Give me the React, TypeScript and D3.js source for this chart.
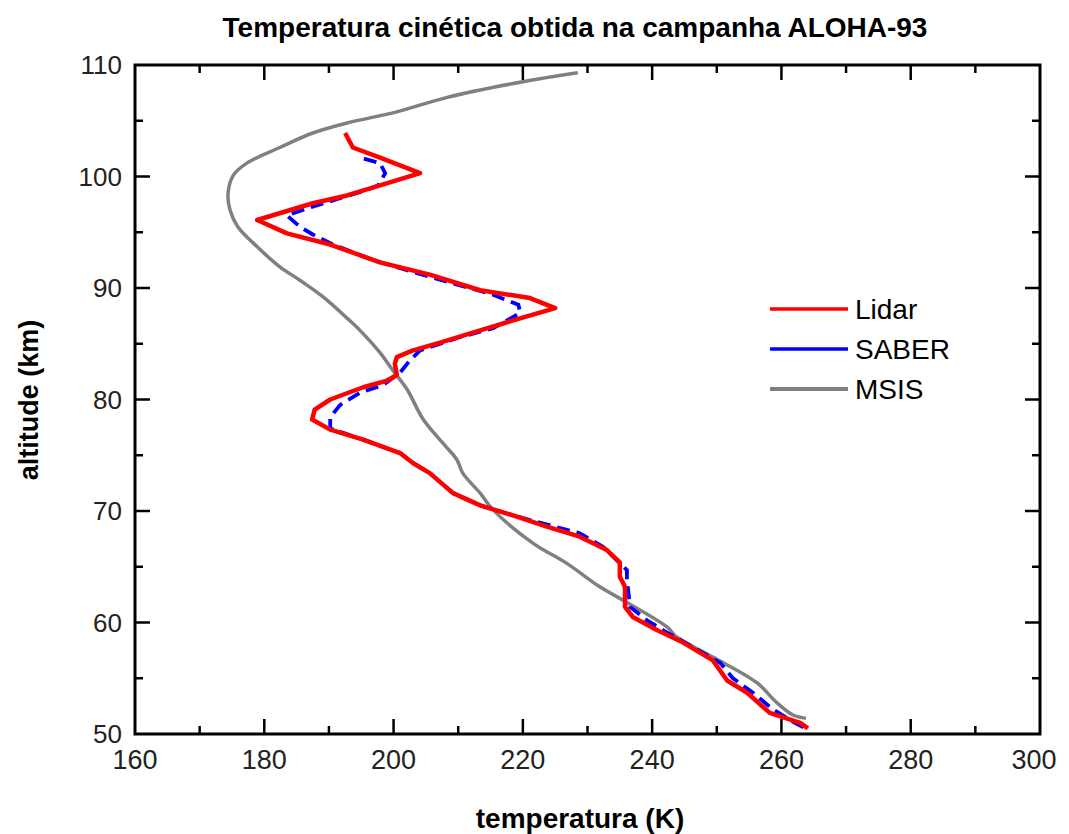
import { useEffect, useRef } from 'react'
import * as d3 from 'd3'

// Lidar profile (K vs km)
const lidarAlt = [103.9, 102.6, 101.7, 100.3, 99.2, 98.3, 97.6, 96.1, 94.9, 93.9, 92.3, 91.2, 89.8, 89.1, 88.2, 87.1, 86.2, 85.1, 84.4, 83.8, 83.2, 82.2, 81.7, 81.1, 80.0, 79.1, 78.2, 77.3, 76.4, 75.2, 74.3, 73.4, 71.6, 70.5, 69.6, 68.6, 67.7, 66.5, 65.4, 64.1, 63.2, 61.4, 60.5, 59.3, 58.2, 56.6, 54.8, 53.7, 51.9, 51.0, 50.5]
const lidarTemp = [192.5, 193.7, 197.9, 204.1, 197.9, 192.8, 187.5, 178.9, 183.5, 190.2, 197.9, 205.6, 213.4, 221.1, 225.0, 218.5, 213.4, 207.2, 203.0, 200.5, 200.2, 200.5, 199.0, 195.3, 190.2, 187.8, 187.4, 190.2, 195.3, 201.0, 203.0, 205.6, 209.2, 213.4, 218.5, 223.7, 228.8, 233.0, 235.0, 235.0, 235.8, 235.8, 237.0, 240.8, 244.8, 249.4, 251.6, 254.7, 258.2, 262.9, 264.1]

// SABER profile
const saberAlt = [101.6, 101.2, 100.3, 99.2, 98.8, 97.3, 96.5, 95.5, 94.8, 93.9, 92.5, 91.0, 89.4, 88.5, 87.8, 87.4, 86.4, 85.6, 84.4, 83.5, 82.4, 81.3, 80.6, 79.5, 78.4, 77.4, 76.4, 75.2, 74.3, 73.4, 71.6, 70.5, 69.6, 68.0, 66.8, 64.7, 63.8, 61.4, 60.2, 59.1, 57.8, 56.4, 55.0, 53.7, 52.2, 51.1, 50.4]
const saberTemp = [195.4, 197.9, 198.7, 197.6, 195.9, 187.5, 183.5, 185.5, 187.5, 190.6, 196.8, 205.6, 215.4, 219.3, 219.6, 218.5, 215.4, 210.3, 204.1, 202.5, 201.0, 198.4, 194.8, 191.7, 190.2, 190.2, 195.3, 201.0, 203.0, 205.6, 209.2, 213.4, 218.5, 228.8, 232.4, 236.1, 236.1, 236.6, 239.2, 242.3, 246.3, 250.5, 252.5, 255.6, 258.7, 261.8, 264.1]

// MSIS model profile
const msisAlt = [109.3, 108.5, 107.1, 105.8, 104.8, 103.9, 102.6, 101.2, 100.1, 98.5, 97.0, 95.5, 93.7, 91.9, 90.7, 89.2, 87.3, 86.2, 84.2, 82.6, 80.9, 78.2, 76.1, 74.6, 73.4, 71.6, 70.1, 67.1, 65.3, 63.2, 61.8, 59.6, 58.7, 56.9, 54.6, 52.8, 51.7, 51.4]
const msisTemp = [228.5, 220.0, 208.3, 200.5, 192.8, 187.5, 182.4, 177.3, 175.2, 174.4, 174.7, 175.9, 178.9, 182.4, 185.5, 189.1, 192.8, 194.8, 197.9, 199.9, 202.1, 204.6, 207.6, 209.8, 210.7, 213.4, 215.4, 221.6, 226.8, 231.9, 236.1, 242.3, 243.8, 249.4, 256.2, 259.3, 261.8, 263.8]

const xTicks = [160, 180, 200, 220, 240, 260, 280, 300]
const yTicks = [50, 60, 70, 80, 90, 100, 110]

const seriesNames = ['Lidar', 'SABER', 'MSIS']
const seriesColors = ['#ff0000', '#0000ff', '#808080']

const App = () => {
  const svgRef = useRef(null)

  useEffect(() => {
    const width = 1069
    const height = 834
    const left = 135
    const right = 1040
    const top = 65
    const bottom = 734

    const svg = d3.select(svgRef.current)
    svg.selectAll('*').remove()
    svg.attr('width', width).attr('height', height)

    const x = d3.scaleLinear().domain([160, 300]).range([left, right])
    const y = d3.scaleLinear().domain([50, 110]).range([bottom, top])

    const font = 'Liberation Sans, Arial, sans-serif'

    const mk = (t: number[], a: number[]) => t.map((v, i) => [v, a[i]] as [number, number])
    const path = d3.line<[number, number]>().x((d) => x(d[0])).y((d) => y(d[1]))
    const smooth = d3
      .line<[number, number]>()
      .x((d) => x(d[0]))
      .y((d) => y(d[1]))
      .curve(d3.curveCatmullRom.alpha(0.5))

    // MSIS below, then SABER, Lidar on top
    svg
      .append('path')
      .attr('d', smooth(mk(msisTemp, msisAlt)))
      .attr('fill', 'none')
      .attr('stroke', seriesColors[2])
      .attr('stroke-width', 3.5)
      .attr('stroke-linejoin', 'round')

    svg
      .append('path')
      .attr('d', path(mk(saberTemp, saberAlt)))
      .attr('fill', 'none')
      .attr('stroke', seriesColors[1])
      .attr('stroke-width', 3.8)
      .attr('stroke-dasharray', '13,7')

    svg
      .append('path')
      .attr('d', path(mk(lidarTemp, lidarAlt)))
      .attr('fill', 'none')
      .attr('stroke', seriesColors[0])
      .attr('stroke-width', 4.5)
      .attr('stroke-linejoin', 'round')

    // frame
    svg
      .append('rect')
      .attr('x', left)
      .attr('y', top)
      .attr('width', right - left)
      .attr('height', bottom - top)
      .attr('fill', 'none')
      .attr('stroke', '#000')
      .attr('stroke-width', 3)

    // ticks on all four sides
    const xMinor = d3.range(170, 300, 20)
    const yMinor = d3.range(55, 110, 10)
    const ticks = svg.append('g').attr('stroke', '#000').attr('stroke-width', 2.5)
    xTicks.slice(1, -1).forEach((v) => {
      ticks.append('line').attr('x1', x(v)).attr('x2', x(v)).attr('y1', bottom).attr('y2', bottom - 15)
      ticks.append('line').attr('x1', x(v)).attr('x2', x(v)).attr('y1', top).attr('y2', top + 15)
    })
    xMinor.forEach((v) => {
      ticks.append('line').attr('x1', x(v)).attr('x2', x(v)).attr('y1', bottom).attr('y2', bottom - 8)
      ticks.append('line').attr('x1', x(v)).attr('x2', x(v)).attr('y1', top).attr('y2', top + 8)
    })
    yTicks.slice(1, -1).forEach((v) => {
      ticks.append('line').attr('y1', y(v)).attr('y2', y(v)).attr('x1', left).attr('x2', left + 15)
      ticks.append('line').attr('y1', y(v)).attr('y2', y(v)).attr('x1', right).attr('x2', right - 15)
    })
    yMinor.forEach((v) => {
      ticks.append('line').attr('y1', y(v)).attr('y2', y(v)).attr('x1', left).attr('x2', left + 8)
      ticks.append('line').attr('y1', y(v)).attr('y2', y(v)).attr('x1', right).attr('x2', right - 8)
    })

    // tick labels
    svg
      .append('g')
      .selectAll('text')
      .data(xTicks)
      .join('text')
      .attr('x', (d) => x(d) - (d === 300 ? 6 : 0))
      .attr('y', bottom + 35)
      .attr('text-anchor', 'middle')
      .attr('font-family', font)
      .attr('font-size', 27)
      .attr('fill', '#222')
      .text((d) => d)

    svg
      .append('g')
      .selectAll('text')
      .data(yTicks)
      .join('text')
      .attr('x', left - 13)
      .attr('y', (d) => y(d) + 9)
      .attr('text-anchor', 'end')
      .attr('font-family', font)
      .attr('font-size', 26)
      .attr('fill', '#222')
      .text((d) => d)

    // titles
    svg
      .append('text')
      .attr('x', 575)
      .attr('y', 37)
      .attr('text-anchor', 'middle')
      .attr('font-family', font)
      .attr('font-weight', 'bold')
      .attr('font-size', 28)
      .text('Temperatura cinética obtida na campanha ALOHA-93')

    svg
      .append('text')
      .attr('x', 580)
      .attr('y', 828)
      .attr('text-anchor', 'middle')
      .attr('font-family', font)
      .attr('font-weight', 'bold')
      .attr('font-size', 28)
      .text('temperatura (K)')

    svg
      .append('text')
      .attr('transform', `translate(38, 400) rotate(-90)`)
      .attr('text-anchor', 'middle')
      .attr('font-family', font)
      .attr('font-weight', 'bold')
      .attr('font-size', 27)
      .text('altitude (km)')

    // legend
    const legend = svg.append('g')
    seriesNames.forEach((name, i) => {
      const ly = 309 + i * 40
      legend
        .append('line')
        .attr('x1', 770)
        .attr('x2', 848)
        .attr('y1', ly)
        .attr('y2', ly)
        .attr('stroke', seriesColors[i])
        .attr('stroke-width', i === 2 ? 4 : 3.5)
      legend
        .append('text')
        .attr('x', 855)
        .attr('y', ly + 10)
        .attr('font-family', font)
        .attr('font-size', 28)
        .text(name)
    })
  }, [])

  return <svg ref={svgRef} style={{ position: 'absolute', left: 0, top: 0 }}></svg>
}

export default App
